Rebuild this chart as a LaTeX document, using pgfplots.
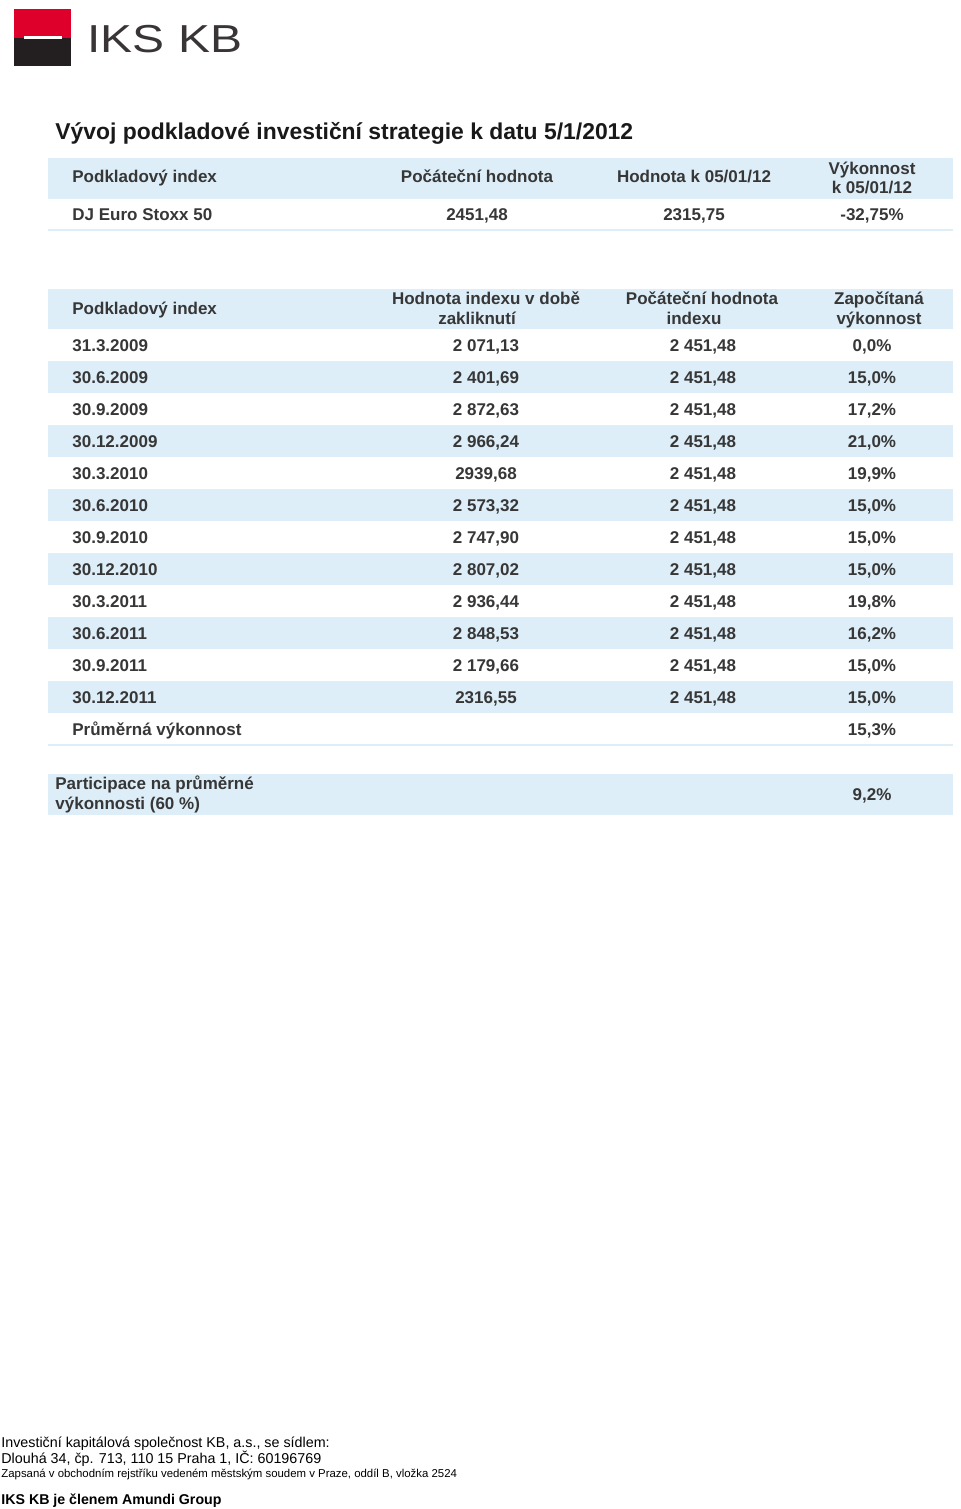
\documentclass[border=0pt]{standalone}
\usepackage{pgfplots}
\pgfplotsset{compat=1.18}
\usepackage{fontspec}
\setmainfont{Liberation Sans}
\definecolor{band}{RGB}{221,238,248}
\definecolor{txt}{RGB}{55,55,55}
\definecolor{kbred}{RGB}{222,0,42}
\definecolor{kbdark}{RGB}{35,31,32}
\newcommand{\tf}{\bfseries\fontsize{8.5}{10}\selectfont}
\newcommand{\C}[3]{\node[anchor=base,font=\tf,text=txt,inner sep=0pt] at (axis cs:#1,#2) {#3};}
\newcommand{\Lt}[3]{\node[anchor=base west,font=\tf,text=txt,inner sep=0pt] at (axis cs:#1,#2) {#3};}
\newcommand{\R}[5]{\Lt{72}{#1}{#2}\C{486}{#1}{#3}\C{703}{#1}{#4}\C{872}{#1}{#5}}
\newcommand{\B}[2]{\addplot[fill=band,draw=none] coordinates {(48,#1) (953,#1) (953,#2) (48,#2)} -- cycle;}
\begin{document}
\begin{tikzpicture}
\begin{axis}[scale only axis, width=480pt, height=754.5pt,
  xmin=0, xmax=960, ymin=0, ymax=1509, y dir=reverse,
  hide axis, clip=false]
% background
\addplot[fill=white,draw=none] coordinates {(0,0) (960,0) (960,1509) (0,1509)} -- cycle;
% logo
\addplot[fill=kbred,draw=none] coordinates {(14,9) (71,9) (71,38) (14,38)} -- cycle;
\addplot[fill=kbdark,draw=none] coordinates {(14,38) (71,38) (71,66) (14,66)} -- cycle;
\addplot[fill=white,draw=none] coordinates {(24,36) (62,36) (62,39) (24,39)} -- cycle;
\node[anchor=base west,inner sep=0pt,text=kbdark!90!white,font=\fontsize{19.5}{20}\selectfont] at (axis cs:87,53) {\scalebox{1.23}[1]{IKS KB}};
% title
\node[anchor=base west,inner sep=0pt,text=black!90,font=\bfseries\fontsize{11.45}{13}\selectfont] at (axis cs:55,140) {Vývoj podkladové investiční strategie k datu 5/1/2012};
% table 1
\B{158}{199}
\addplot[band,line width=1pt] coordinates {(48,230) (953,230)};
\Lt{72}{183}{Podkladový index}
\C{477}{183}{Počáteční hodnota}
\C{694}{183}{Hodnota k 05/01/12}
\C{872}{174}{Výkonnost}
\C{872}{193}{k 05/01/12}
\Lt{72}{220}{DJ Euro Stoxx 50}
\C{477}{220}{2451,48}
\C{694}{220}{2315,75}
\C{872}{220}{-32,75\%}
% table 2
\B{289}{329}
\B{361}{393}
\B{425}{457}
\B{489}{521}
\B{553}{585}
\B{617}{649}
\B{681}{713}
\addplot[band,line width=1pt] coordinates {(48,745) (953,745)};
\Lt{72}{314}{Podkladový index}
\C{486}{304}{Hodnota indexu v době}
\C{477}{324}{zakliknutí}
\C{702}{304}{Počáteční hodnota}
\C{694}{324}{indexu}
\C{879}{304}{Započítaná}
\C{879}{324}{výkonnost}
\R{351}{31.3.2009}{2 071,13}{2 451,48}{0,0\%}
\R{383}{30.6.2009}{2 401,69}{2 451,48}{15,0\%}
\R{415}{30.9.2009}{2 872,63}{2 451,48}{17,2\%}
\R{447}{30.12.2009}{2 966,24}{2 451,48}{21,0\%}
\R{479}{30.3.2010}{2939,68}{2 451,48}{19,9\%}
\R{511}{30.6.2010}{2 573,32}{2 451,48}{15,0\%}
\R{543}{30.9.2010}{2 747,90}{2 451,48}{15,0\%}
\R{575}{30.12.2010}{2 807,02}{2 451,48}{15,0\%}
\R{607}{30.3.2011}{2 936,44}{2 451,48}{19,8\%}
\R{639}{30.6.2011}{2 848,53}{2 451,48}{16,2\%}
\R{671}{30.9.2011}{2 179,66}{2 451,48}{15,0\%}
\R{703}{30.12.2011}{2316,55}{2 451,48}{15,0\%}
\Lt{72}{735}{Průměrná výkonnost}
\C{872}{735}{15,3\%}
% participace
\B{774}{815}
\Lt{55}{789}{Participace na průměrné}
\Lt{55}{809}{výkonnosti (60 \%)}
\C{872}{800}{9,2\%}
% footer
\node[anchor=base west,inner sep=0pt,font=\fontsize{7.15}{8}\selectfont] at (axis cs:1,1447) {Investiční kapitálová společnost KB, a.s., se sídlem:};
\node[anchor=base west,inner sep=0pt,font=\fontsize{7.15}{8}\selectfont] at (axis cs:1,1463) {Dlouhá 34, čp. 713, 110 15 Praha 1, IČ: 60196769};
\node[anchor=base west,inner sep=0pt,font=\fontsize{5.7}{6}\selectfont] at (axis cs:1,1477) {Zapsaná v obchodním rejstříku vedeném městským soudem v Praze, oddíl B, vložka 2524};
\node[anchor=base west,inner sep=0pt,font=\bfseries\fontsize{7.1}{8}\selectfont] at (axis cs:1,1504) {IKS KB je členem Amundi Group};
\end{axis}
\end{tikzpicture}
\end{document}
